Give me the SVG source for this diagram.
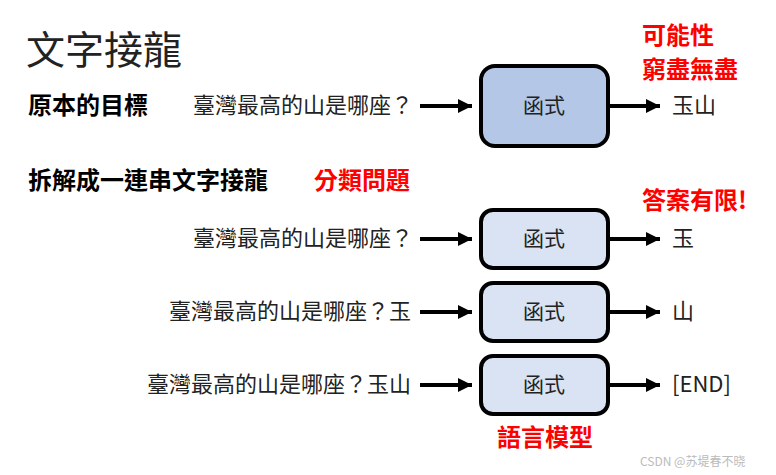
<svg xmlns="http://www.w3.org/2000/svg" width="776" height="475" viewBox="0 0 776 475">
<style>
text{font-family:"Noto Sans CJK TC","Noto Sans",sans-serif;fill:#222}
.q{font-size:22px;text-anchor:end}
.o{font-size:22px}
.b{font-size:24px;font-weight:bold;fill:#000}
.r{font-size:24px;font-weight:bold;fill:#f00}
.box{stroke:#000;stroke-width:4}
.c{font-size:21px;text-anchor:middle}
.ln{stroke:#000;stroke-width:4;marker-end:url(#a)}
</style>
<defs><marker id="a" markerWidth="3.5" markerHeight="3.5" refX="3.5" refY="1.75" orient="auto"><path d="M0,0L3.5,1.75L0,3.5z" fill="#000"/></marker></defs>
<rect width="776" height="475" fill="#fff"/>
<text x="26" y="64" style="font-size:39px">文字接龍</text>
<text class="b" x="28" y="114">原本的目標</text>
<text class="b" x="28" y="189">拆解成一連串文字接龍</text>
<text class="r" x="314" y="189">分類問題</text>
<text class="r" x="642" y="44">可能性</text>
<text class="r" x="642" y="78">窮盡無盡</text>
<text class="r" x="642" y="209">答案有限!</text>
<text class="r" x="497" y="446">語言模型</text>
<g id="n1"><rect class="box" x="481" y="66" width="127" height="80" rx="14" fill="#b4c7e7"/><text class="c" x="544" y="113">函式</text></g>
<g id="n2"><rect class="box" x="481" y="210" width="127" height="58" rx="12" fill="#dae3f3"/><text class="c" x="544" y="246">函式</text></g>
<g id="n3"><rect class="box" x="481" y="283" width="127" height="58" rx="12" fill="#dae3f3"/><text class="c" x="544" y="319">函式</text></g>
<g id="n4"><rect class="box" x="481" y="356" width="127" height="58" rx="12" fill="#dae3f3"/><text class="c" x="544" y="392">函式</text></g>
<text class="q" x="413" y="113">臺灣最高的山是哪座？</text>
<text class="q" x="413" y="246">臺灣最高的山是哪座？</text>
<text class="q" x="411" y="319">臺灣最高的山是哪座？玉</text>
<text class="q" x="411" y="392">臺灣最高的山是哪座？玉山</text>
<text class="o" x="672" y="113">玉山</text>
<text class="o" x="672" y="246">玉</text>
<text class="o" x="672" y="319">山</text>
<text class="o" x="672" y="392">[END]</text>
<g id="connectors">
<line class="ln" x1="420" y1="106" x2="472" y2="106"/>
<line class="ln" x1="610" y1="106" x2="660" y2="106"/>
<line class="ln" x1="420" y1="239" x2="472" y2="239"/>
<line class="ln" x1="610" y1="239" x2="660" y2="239"/>
<line class="ln" x1="420" y1="312" x2="472" y2="312"/>
<line class="ln" x1="610" y1="312" x2="660" y2="312"/>
<line class="ln" x1="420" y1="385" x2="472" y2="385"/>
<line class="ln" x1="610" y1="385" x2="660" y2="385"/>
</g>
<text x="640" y="466" style="font-size:12px;fill:#bbb">CSDN @苏堤春不晓</text>
</svg>
